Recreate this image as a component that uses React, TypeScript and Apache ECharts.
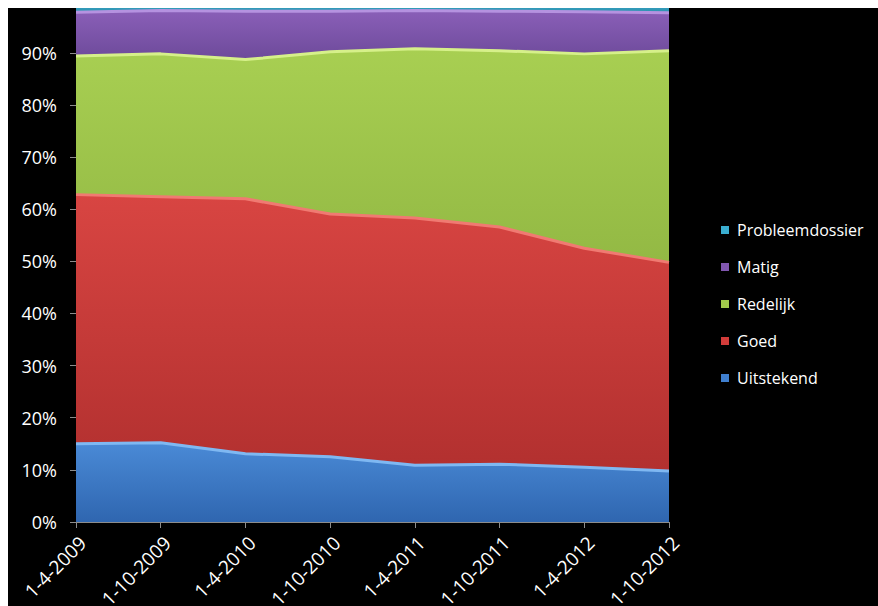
import React, { useEffect, useRef } from "react";
import * as echarts from "echarts";

const categories = ["1-4-2009", "1-10-2009", "1-4-2010", "1-10-2010", "1-4-2011", "1-10-2011", "1-4-2012", "1-10-2012"];
const uitstekend = [15.0, 15.2, 13.1, 12.5, 10.9, 11.1, 10.5, 9.8];
const goed = [47.8, 47.2, 48.9, 46.6, 47.4, 45.5, 42.0, 40.0];
const redelijk = [26.6, 27.4, 26.7, 31.1, 32.5, 33.8, 37.3, 40.6];
const matig = [8.4, 8.3, 9.3, 7.8, 7.3, 7.6, 8.1, 7.3];
const probleemdossier = [2.2, 1.9, 2.0, 2.0, 1.9, 2.0, 2.1, 2.3];
const legendOrder = ["Probleemdossier", "Matig", "Redelijk", "Goed", "Uitstekend"];

const grad = (top: string, bottom: string) =>
  new echarts.graphic.LinearGradient(0, 0, 0, 1, [
    { offset: 0, color: top },
    { offset: 1, color: bottom },
  ]);

export default function App() {
  const ref = useRef<HTMLDivElement>(null);
  useEffect(() => {
    if (!ref.current) return;
    const chart = echarts.init(ref.current, undefined, { renderer: "svg" });
    const font = "'Open Sans', 'Noto Sans', sans-serif";
    const mk = (name: string, data: number[], top: string, bottom: string, line: string, legendColor: string) => ({
      name,
      type: "line",
      stack: "total",
      data,
      symbol: "none",
      smooth: false,
      clip: true,
      color: legendColor,
      lineStyle: { color: line, width: 3 },
      areaStyle: { color: grad(top, bottom), opacity: 1 },
      emphasis: { disabled: true },
    });
    chart.setOption({
      animation: false,
      backgroundColor: "#000000",
      grid: { left: 68, right: 209, top: 0, bottom: 84, containLabel: false, outerBoundsMode: "none" },
      legend: {
        orient: "vertical",
        left: 708,
        top: 209,
        itemWidth: 8,
        itemHeight: 8,
        itemGap: 21,
        icon: "rect",
        data: legendOrder,
        textStyle: { color: "#ffffff", fontSize: 16, fontFamily: font, padding: [0, 0, 0, 3] },
      },
      xAxis: {
        type: "category",
        data: categories,
        boundaryGap: false,
        axisLine: { lineStyle: { color: "#8c8c8c", width: 1 } },
        axisTick: { show: true, length: 6, alignWithLabel: true, lineStyle: { color: "#8c8c8c" } },
        axisLabel: { color: "#ffffff", fontSize: 19, fontFamily: font, rotate: 45, margin: 11, verticalAlign: "top" },
        splitLine: { show: false },
      },
      yAxis: {
        type: "value",
        min: 0,
        max: 98.6,
        interval: 10,
        axisLine: { show: true, lineStyle: { color: "#8c8c8c", width: 1 } },
        axisTick: { show: true, length: 6, lineStyle: { color: "#8c8c8c" } },
        axisLabel: {
          color: "#ffffff",
          fontSize: 18,
          fontFamily: font,
          margin: 19,
          formatter: (v: number) => (Math.round(v) % 10 === 0 ? `${Math.round(v)}%` : ""),
          showMaxLabel: false,
        },
        splitLine: { show: false },
      },
      series: [
        mk("Uitstekend", uitstekend, "#4a8ad6", "#2f66b0", "#7fb8f2", "#3f7fcf"),
        mk("Goed", goed, "#d84542", "#b2302f", "#f07a72", "#d23c3a"),
        mk("Redelijk", redelijk, "#a8cf52", "#93b944", "#d6f08a", "#a2c84c"),
        mk("Matig", matig, "#8a5fb8", "#6d4a9a", "#b592e0", "#8157b0"),
        mk("Probleemdossier", probleemdossier, "#3fb0cc", "#2b8fae", "#7fd4ea", "#3aaed0"),
      ],
    });
    return () => chart.dispose();
  }, []);
  return (
    <div
      ref={ref}
      style={{ position: "fixed", left: 8, top: 8, width: 870, height: 598, background: "#000" }}
    />
  );
}
